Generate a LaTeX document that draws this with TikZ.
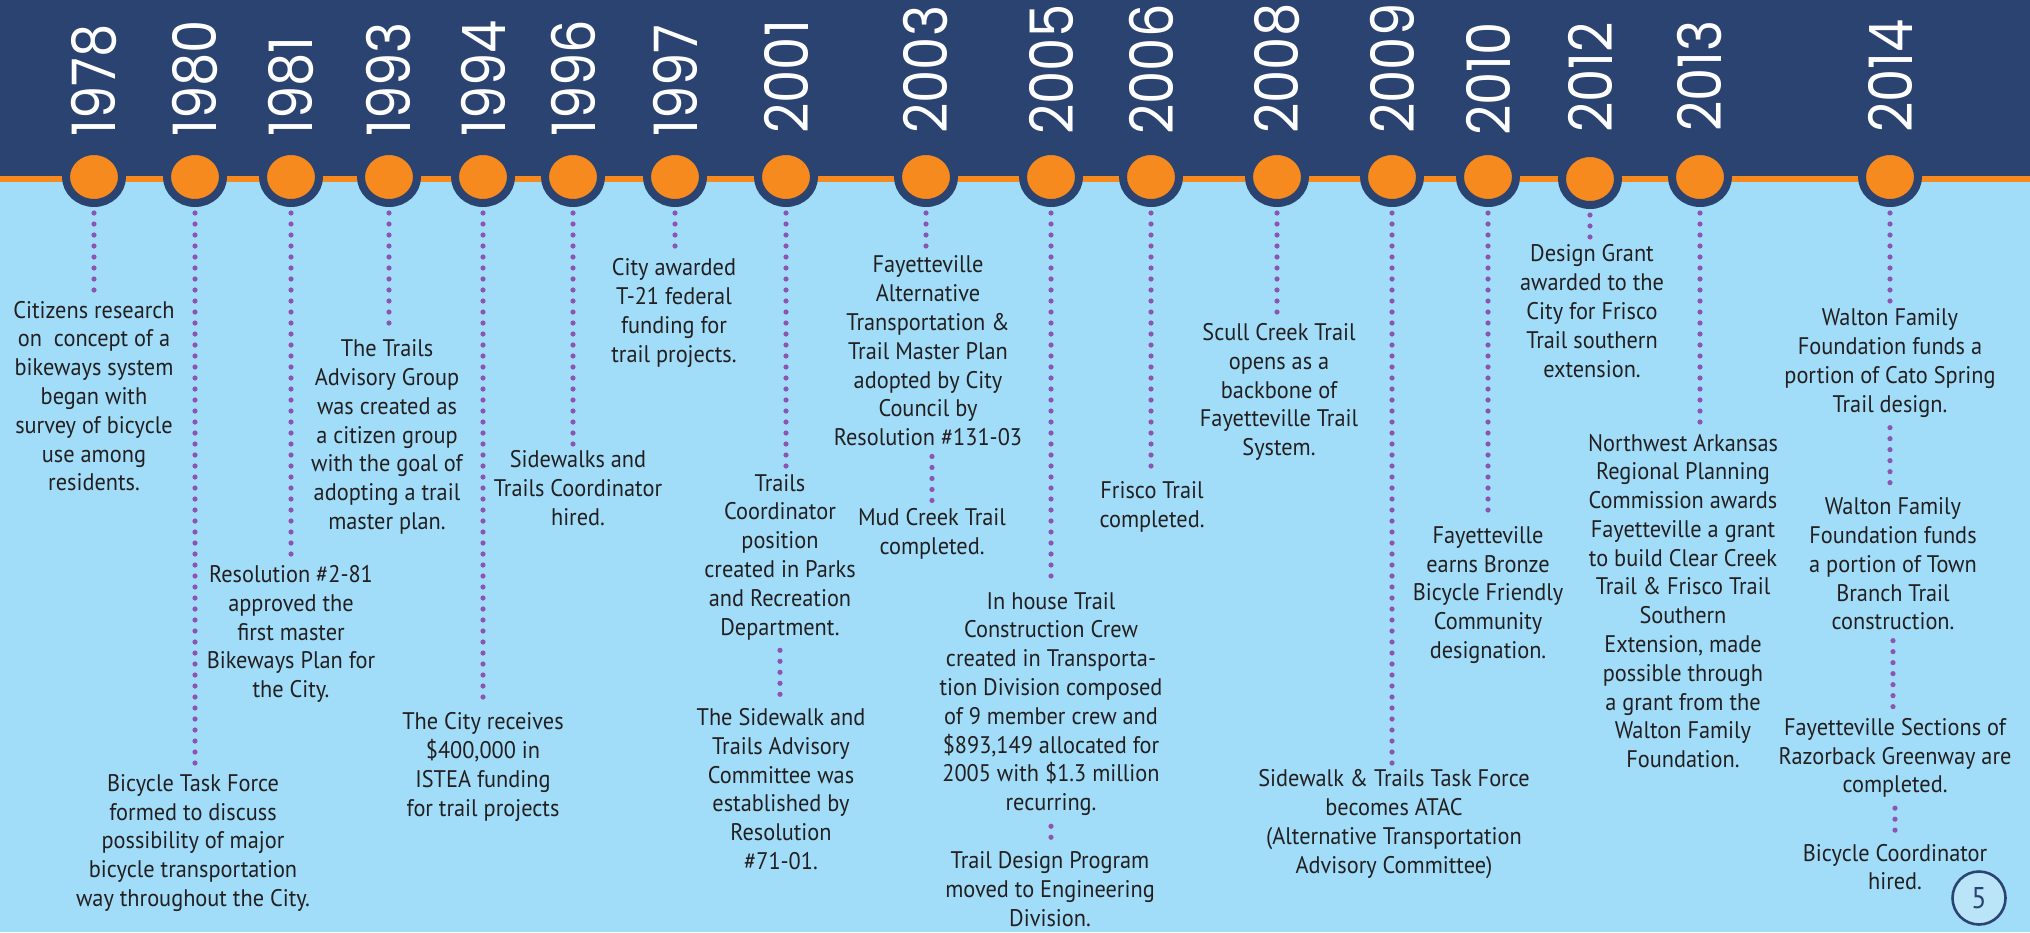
\documentclass[tikz,border=0pt]{standalone}
\usepackage{fontspec}
\usetikzlibrary{shapes.geometric}
\newfontfamily\testo{PT Sans}[FakeStretch=0.93]
\newfontfamily\anni{Poppins}[FakeStretch=0.88]
\definecolor{navy}{HTML}{2B4371}
\definecolor{arancio}{HTML}{F68A1F}
\definecolor{celeste}{HTML}{A1DDF8}
\definecolor{celestino}{HTML}{BAE5F9}
\definecolor{viola}{HTML}{8D55B2}
\definecolor{scuro}{HTML}{231F20}
\tikzset{
  anello/.style={ellipse, fill=arancio, draw=navy, line width=4pt,
    minimum width=28pt, minimum height=26pt, inner sep=0pt},
  anno/.style={rotate=90, anchor=west, text=white, inner sep=0pt,
    font=\anni\fontsize{30pt}{30pt}\selectfont},
  evento/.style={align=center, text=scuro, inner sep=2pt,
    font=\testo\fontsize{12pt}{14.4pt}\selectfont},
  puntini/.style={viola, line width=2.6pt, line cap=round,
    dash pattern=on 0pt off 5.5pt, shorten <=3pt, shorten >=1pt},
}
\begin{document}
\begin{tikzpicture}[x=0.5pt, y=-0.5pt]
    \useasboundingbox (0,0) rectangle (2030,932);
    \clip (0,0) rectangle (2030,932);

    % Sfondo
    \fill[celeste] (0,0) rectangle (2030,932);
    \fill[navy] (0,0) rectangle (2030,176);
    \fill[arancio] (0,176) rectangle (2030,182);

    % Anni
    \node[anello] (c1978) at (94,177) {};   \node[anno] (y1978) at (94,137) {1978};
    \node[anello] (c1980) at (195,177) {};  \node[anno] (y1980) at (195,137) {1980};
    \node[anello] (c1981) at (291,177) {};  \node[anno] (y1981) at (291,137) {1981};
    \node[anello] (c1993) at (389,177) {};  \node[anno] (y1993) at (389,137) {1993};
    \node[anello] (c1994) at (483,177) {};  \node[anno] (y1994) at (483,137) {1994};
    \node[anello] (c1996) at (573,177) {};  \node[anno] (y1996) at (573,137) {1996};
    \node[anello] (c1997) at (675,177) {};  \node[anno] (y1997) at (675,137) {1997};
    \node[anello] (c2001) at (786,177) {};  \node[anno] (y2001) at (786,134) {2001};
    \node[anello] (c2003) at (926,177) {};  \node[anno] (y2003) at (926,134) {2003};
    \node[anello] (c2005) at (1051,177) {}; \node[anno] (y2005) at (1051,135) {2005};
    \node[anello] (c2006) at (1151,177) {}; \node[anno] (y2006) at (1151,135) {2006};
    \node[anello] (c2008) at (1277,177) {}; \node[anno] (y2008) at (1277,134) {2008};
    \node[anello] (c2009) at (1392,177) {}; \node[anno] (y2009) at (1392,134) {2009};
    \node[anello] (c2010) at (1488,177) {}; \node[anno] (y2010) at (1488,136) {2010};
    \node[anello] (c2012) at (1590,179) {}; \node[anno] (y2012) at (1590,133) {2012};
    \node[anello] (c2013) at (1700,177) {}; \node[anno] (y2013) at (1700,132) {2013};
    \node[anello] (c2014) at (1890,177) {}; \node[anno] (y2014) at (1890,133) {2014};

    % Eventi
    \node[evento] (e1978) at (94,396) {Citizens research\\on~ concept of a\\bikeways system\\began with\\survey of bicycle\\use among\\residents.};
    \node[evento] (e1980) at (193,843) {Bicycle Task Force\\formed to discuss\\possibility of major\\bicycle transportation\\way throughout the City.};
    \node[evento] (e1981) at (291,634) {Resolution \#2-81\\approved the\\first master\\Bikeways Plan for\\the City.};
    \node[evento] (e1993) at (387,437) {The Trails\\Advisory Group\\was created as\\a citizen group\\with the goal of\\adopting a trail\\master plan.};
    \node[evento] (e1994) at (483,767) {The City receives\\\$400,000 in\\ISTEA funding\\for trail projects};
    \node[evento] (e1996) at (578,488) {Sidewalks and\\Trails Coordinator\\hired.};
    \node[evento] (e1997) at (674,313) {City awarded\\T-21 federal\\funding for\\trail projects.};
    \node[evento] (e2001a) at (780,557) {Trails\\Coordinator\\position\\created in Parks\\and Recreation\\Department.};
    \node[evento] (e2001b) at (781,789) {The Sidewalk and\\Trails Advisory\\Committee was\\established by\\Resolution\\\#71-01.};
    \node[evento] (e2003a) at (928,351) {Fayetteville\\Alternative\\Transportation \&\\Trail Master Plan\\adopted by City\\Council by\\Resolution \#131-03};
    \node[evento] (e2003b) at (932,534) {Mud Creek Trail\\completed.};
    \node[evento] (e2005a) at (1051,704) {In house Trail\\Construction Crew\\created in Transporta-\\tion Division composed\\of 9 member crew and\\\$893,149 allocated for\\2005 with \$1.3 million\\recurring.};
    \node[evento] (e2005b) at (1050,889) {Trail Design Program\\moved to Engineering\\Division.};
    \node[evento] (e2006) at (1152,507) {Frisco Trail\\completed.};
    \node[evento] (e2008) at (1279,392) {Scull Creek Trail\\opens as a\\backbone of\\Fayetteville Trail\\System.};
    \node[evento] (e2009) at (1394,824) {Sidewalk \& Trails Task Force\\becomes ATAC\\(Alternative Transportation\\Advisory Committee)};
    \node[evento] (e2010) at (1488,595) {Fayetteville\\earns Bronze\\Bicycle Friendly\\Community\\designation.};
    \node[evento] (e2012) at (1592,311) {Design Grant\\awarded to the\\City for Frisco\\Trail southern\\extension.};
    \node[evento] (e2013) at (1683,601) {Northwest Arkansas\\Regional Planning\\Commission awards\\Fayetteville a grant\\to build Clear Creek\\Trail \& Frisco Trail\\Southern\\Extension, made\\possible through\\a grant from the\\Walton Family\\Foundation.};
    \node[evento] (e2014a) at (1890,363) {Walton Family\\Foundation funds a\\portion of Cato Spring\\Trail design.};
    \node[evento] (e2014b) at (1893,564) {Walton Family\\Foundation funds\\a portion of Town\\Branch Trail\\construction.};
    \node[evento] (e2014c) at (1895,758) {Fayetteville Sections of\\Razorback Greenway are\\completed.};
    \node[evento] (e2014d) at (1895,867) {Bicycle Coordinator\\hired.};

    % Linee tratteggiate
    \draw[puntini] (c1978) -- (c1978 |- e1978.north);
    \draw[puntini] (c1980) -- (c1980 |- e1980.north);
    \draw[puntini] (c1981) -- (c1981 |- e1981.north);
    \draw[puntini] (c1993) -- (c1993 |- e1993.north);
    \draw[puntini] (c1994) -- (c1994 |- e1994.north);
    \draw[puntini] (c1996) -- (c1996 |- e1996.north);
    \draw[puntini] (c1997) -- (c1997 |- e1997.north);
    \draw[puntini] (c2001) -- (c2001 |- e2001a.north);
    \draw[puntini] (e2001a) -- (e2001a |- e2001b.north);
    \draw[puntini] (c2003) -- (c2003 |- e2003a.north);
    \draw[puntini] (e2003b |- e2003a.south) -- (e2003b);
    \draw[puntini] (c2005) -- (c2005 |- e2005a.north);
    \draw[puntini] (e2005a) -- (e2005a |- e2005b.north);
    \draw[puntini] (c2006) -- (c2006 |- e2006.north);
    \draw[puntini] (c2008) -- (c2008 |- e2008.north);
    \draw[puntini] (c2009) -- (c2009 |- e2009.north);
    \draw[puntini] (c2010) -- (c2010 |- e2010.north);
    \draw[puntini] (c2012) -- (c2012 |- e2012.north);
    \draw[puntini] (c2013) -- (c2013 |- e2013.north);
    \draw[puntini] (c2014) -- (c2014 |- e2014a.north);
    \draw[puntini] (e2014a) -- (e2014a |- e2014b.north);
    \draw[puntini] (e2014b) -- (e2014b |- e2014c.north);
    \draw[puntini] (e2014c) -- (e2014c |- e2014d.north);

    % Numero di pagina
    \node[circle, draw=navy, fill=celestino, line width=1.3pt, minimum size=26.5pt,
      inner sep=0pt, text=navy, font=\testo\fontsize{15pt}{15pt}\selectfont] (pag) at (1979,898) {5};
\end{tikzpicture}
\end{document}
